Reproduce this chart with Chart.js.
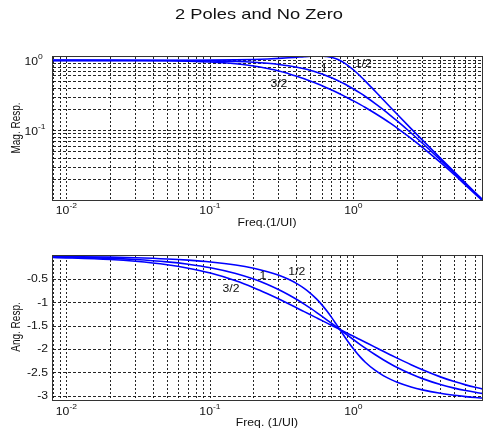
<!DOCTYPE html>
<html>
<head>
<meta charset="utf-8">
<script src="https://cdn.jsdelivr.net/npm/chart.js@4.4.0/dist/chart.umd.min.js"></script>
<style>
  body { margin: 0; background: #fff; }
  #wrap { position: relative; width: 483px; height: 433px; overflow: hidden; }
  canvas { position: absolute; left: 0; }
  #magChart { top: 0; }
  #angChart { top: 230px; }
</style>
</head>
<body>
<div id="wrap">
  <canvas id="magChart" width="483" height="230"></canvas>
  <canvas id="angChart" width="483" height="203"></canvas>
</div>
<script>
// frequencies (1/UI)
const freq = [0.008, 0.02, 0.03, 0.05, 0.07, 0.1, 0.15, 0.2, 0.25, 0.3, 0.35, 0.4, 0.45, 0.5, 0.55, 0.6, 0.65, 0.7, 0.75, 0.8, 0.85, 0.9, 1.0, 1.1, 1.2, 1.4, 1.6, 1.8, 2.0, 2.5, 3, 4, 5, 6, 7, 8];

// magnitude, one array per curve
const magHalf = [1.0001, 1.0003, 1.0007, 1.0020, 1.0039, 1.0079, 1.0176, 1.0310, 1.0477, 1.0671, 1.0885, 1.1103, 1.1304, 1.1462, 1.1543, 1.1511, 1.1339, 1.1012, 1.0539, 0.9949, 0.9285, 0.8588, 0.7231, 0.6044, 0.5069, 0.3657, 0.2744, 0.2130, 0.1702, 0.1063, 0.0728, 0.0404, 0.0257, 0.0178, 0.0130, 0.0100];
const magOne = [0.9999, 0.9994, 0.9986, 0.9961, 0.9923, 0.9845, 0.9657, 0.9406, 0.9102, 0.8756, 0.8380, 0.7984, 0.7578, 0.7171, 0.6768, 0.6377, 0.5999, 0.5639, 0.5297, 0.4975, 0.4672, 0.4389, 0.3879, 0.3437, 0.3056, 0.2443, 0.1984, 0.1636, 0.1368, 0.0921, 0.0658, 0.0381, 0.0247, 0.0173, 0.0128, 0.0098];
const magThreeHalf = [0.9996, 0.9978, 0.9951, 0.9865, 0.9740, 0.9488, 0.8945, 0.8316, 0.7669, 0.7081, 0.6467, 0.5943, 0.5472, 0.5052, 0.4678, 0.4344, 0.4045, 0.3777, 0.3535, 0.3317, 0.3119, 0.2938, 0.2623, 0.2356, 0.2128, 0.1762, 0.1481, 0.1260, 0.1084, 0.0773, 0.0575, 0.0350, 0.0234, 0.0166, 0.0124, 0.0096];

// angle (rad)
const angHalf = [-0.0101, -0.0251, -0.0377, -0.0630, -0.0884, -0.1270, -0.1930, -0.2620, -0.3353, -0.4139, -0.4991, -0.5919, -0.6933, -0.8038, -0.9233, -1.0505, -1.1834, -1.3185, -1.4522, -1.5808, -1.7014, -1.8122, -2.0022, -2.1530, -2.2719, -2.4428, -2.5574, -2.6390, -2.6998, -2.8011, -2.8636, -2.9373, -2.9797, -3.0074, -3.0269, -3.0414];
const angOne = [-0.0201, -0.0502, -0.0753, -0.1255, -0.1754, -0.2499, -0.3725, -0.4923, -0.6087, -0.7212, -0.8285, -0.9313, -1.0290, -1.1217, -1.2093, -1.2918, -1.3695, -1.4426, -1.5113, -1.5758, -1.6364, -1.6933, -1.7970, -1.8888, -1.9702, -2.1076, -2.2183, -2.3089, -2.3840, -2.5249, -2.6228, -2.7487, -2.8258, -2.8778, -2.9152, -2.9433];
const angThreeHalf = [-0.0302, -0.0753, -0.1127, -0.1870, -0.2609, -0.3657, -0.5302, -0.6775, -0.8076, -0.9216, -1.0219, -1.1105, -1.1893, -1.2599, -1.3238, -1.3821, -1.4356, -1.4851, -1.5311, -1.5741, -1.6146, -1.6527, -1.7230, -1.7868, -1.8451, -1.9485, -2.0378, -2.1159, -2.1848, -2.3257, -2.4335, -2.5854, -2.6860, -2.7567, -2.8088, -2.8488];

// grid lines and tick labels
const freqGrid = [0.008, 0.009, 0.01, 0.02, 0.03, 0.04, 0.05, 0.06, 0.07, 0.08, 0.09, 0.1, 0.2, 0.3, 0.4, 0.5, 0.6, 0.7, 0.8, 0.9, 1, 2, 3, 4, 5, 6, 7];
const magGrid = [0.02, 0.03, 0.04, 0.05, 0.06, 0.07, 0.08, 0.09, 0.1, 0.2, 0.3, 0.4, 0.5, 0.6, 0.7, 0.8, 0.9, 1];
const angGrid = [-3, -2.5, -2, -1.5, -1, -0.5];
const freqTickExp = [-2, -1, 0];
const magTickExp = [-1, 0];

// curve labels
const curveNames = ["1/2", "1", "3/2"];
const magNoteX = [1.16, 0.62, 0.30];
const magNoteY = [0.89, 0.745, 0.46];
const angNoteX = [0.40, 0.232, 0.139];
const angNoteY = [-0.35, -0.44, -0.72];

const FONT = '"Liberation Sans", Arial, Helvetica, sans-serif';
const STRETCH = 1.22; // the picture is wider than tall, text too

function txt(ctx, s, x, y, size, align) {
  ctx.save();
  ctx.translate(x, y);
  ctx.scale(STRETCH, 1);
  ctx.font = size + "px " + FONT;
  ctx.fillStyle = "#111";
  ctx.textAlign = align || "center";
  ctx.textBaseline = "middle";
  ctx.fillText(s, 0, 0);
  ctx.restore();
}

function txtWidth(ctx, s, size) {
  ctx.save();
  ctx.font = size + "px " + FONT;
  const w = ctx.measureText(s).width * STRETCH;
  ctx.restore();
  return w;
}

function power(ctx, exp, x, y, align) {
  const wb = txtWidth(ctx, "10", 10);
  const ws = txtWidth(ctx, String(exp), 7);
  const x0 = align === "right" ? x - wb : x - (wb + ws) / 2;
  txt(ctx, "10", x0, y, 10, "left");
  txt(ctx, String(exp), x0 + wb, y - 5, 7, "left");
}

function vtxt(ctx, s, x, y) {
  ctx.save();
  ctx.translate(x, y);
  ctx.scale(STRETCH, 1);
  ctx.rotate(-Math.PI / 2);
  ctx.font = "10px " + FONT;
  ctx.fillStyle = "#111";
  ctx.textAlign = "center";
  ctx.textBaseline = "middle";
  ctx.fillText(s, 0, 0);
  ctx.restore();
}

function frame(chart) {
  const { ctx, chartArea: a } = chart;
  ctx.save();
  ctx.strokeStyle = "#333";
  ctx.lineWidth = 1;
  ctx.strokeRect(Math.round(a.left) - 0.5, Math.round(a.top) - 0.5,
    Math.round(a.right - a.left) + 1, Math.round(a.bottom - a.top) + 1);
  ctx.restore();
}

function curve(label, ys) {
  return {
    label,
    data: freq.map((f, i) => ({ x: f, y: ys[i] })),
    borderColor: "#0000ff",
    borderWidth: 1.6,
    pointRadius: 0,
    fill: false,
    cubicInterpolationMode: "monotone"
  };
}

function freqAxis() {
  return {
    type: "logarithmic",
    min: 0.008,
    max: 7.8,
    afterBuildTicks: s => { s.ticks = freqGrid.map(v => ({ value: v })); },
    afterFit: s => { s.height = 0; },
    ticks: { display: false },
    grid: { color: "rgba(0,0,0,0.85)", lineWidth: 1, drawTicks: false },
    border: { display: false, dash: [2, 2] }
  };
}

const magPlugin = {
  id: "magDeco",
  afterDraw(chart) {
    const ctx = chart.ctx;
    const xs = chart.scales.x, ys = chart.scales.y;
    frame(chart);
    txt(ctx, "2 Poles and No Zero", 259, 14.5, 15, "center");
    freqTickExp.forEach(e => power(ctx, e, xs.getPixelForValue(10 ** e) - 0.5, 211.5, "center"));
    magTickExp.forEach(e => power(ctx, e, 38, ys.getPixelForValue(10 ** e) + 1.5, "right"));
    txt(ctx, "Freq.(1/UI)", 267, 223, 10, "center");
    vtxt(ctx, "Mag. Resp.", 17, 128);
    curveNames.forEach((n, i) => txt(ctx, n, xs.getPixelForValue(magNoteX[i]), ys.getPixelForValue(magNoteY[i]), 10, "center"));
  }
};

const angPlugin = {
  id: "angDeco",
  afterDraw(chart) {
    const ctx = chart.ctx;
    const xs = chart.scales.x, ys = chart.scales.y;
    frame(chart);
    freqTickExp.forEach(e => power(ctx, e, xs.getPixelForValue(10 ** e) - 0.5, 182, "center"));
    angGrid.forEach(v => txt(ctx, String(v), 48, ys.getPixelForValue(v), 10, "right"));
    txt(ctx, "Freq. (1/UI)", 267, 193, 10, "center");
    vtxt(ctx, "Ang. Resp.", 17, 97);
    curveNames.forEach((n, i) => txt(ctx, n, xs.getPixelForValue(angNoteX[i]), ys.getPixelForValue(angNoteY[i]), 10, "center"));
  }
};

window.magChartInstance = new Chart(document.getElementById("magChart"), {
  type: "line",
  data: {
    datasets: [curve("1/2", magHalf), curve("1", magOne), curve("3/2", magThreeHalf)]
  },
  options: {
    responsive: false,
    animation: false,
    events: [],
    layout: { padding: { left: 53, right: 1, top: 57, bottom: 30 } },
    plugins: { legend: { display: false }, tooltip: { enabled: false } },
    scales: {
      x: freqAxis(),
      y: {
        type: "logarithmic",
        min: 0.0102,
        max: 1.118,
        afterBuildTicks: s => { s.ticks = magGrid.map(v => ({ value: v })); },
        afterFit: s => { s.width = 0; },
        ticks: { display: false },
        grid: { color: "rgba(0,0,0,0.85)", lineWidth: 1, drawTicks: false },
        border: { display: false, dash: [3, 2] }
      }
    }
  },
  plugins: [magPlugin]
});

window.angChartInstance = new Chart(document.getElementById("angChart"), {
  type: "line",
  data: {
    datasets: [curve("1/2", angHalf), curve("1", angOne), curve("3/2", angThreeHalf)]
  },
  options: {
    responsive: false,
    animation: false,
    events: [],
    layout: { padding: { left: 53, right: 1, top: 26, bottom: 33 } },
    plugins: { legend: { display: false }, tooltip: { enabled: false } },
    scales: {
      x: freqAxis(),
      y: {
        type: "linear",
        min: -3.08,
        max: 0,
        afterBuildTicks: s => { s.ticks = angGrid.map(v => ({ value: v })); },
        afterFit: s => { s.width = 0; },
        ticks: { display: false },
        grid: { color: "rgba(0,0,0,0.85)", lineWidth: 1, drawTicks: false },
        border: { display: false, dash: [3, 2] }
      }
    }
  },
  plugins: [angPlugin]
});
</script>
</body>
</html>
